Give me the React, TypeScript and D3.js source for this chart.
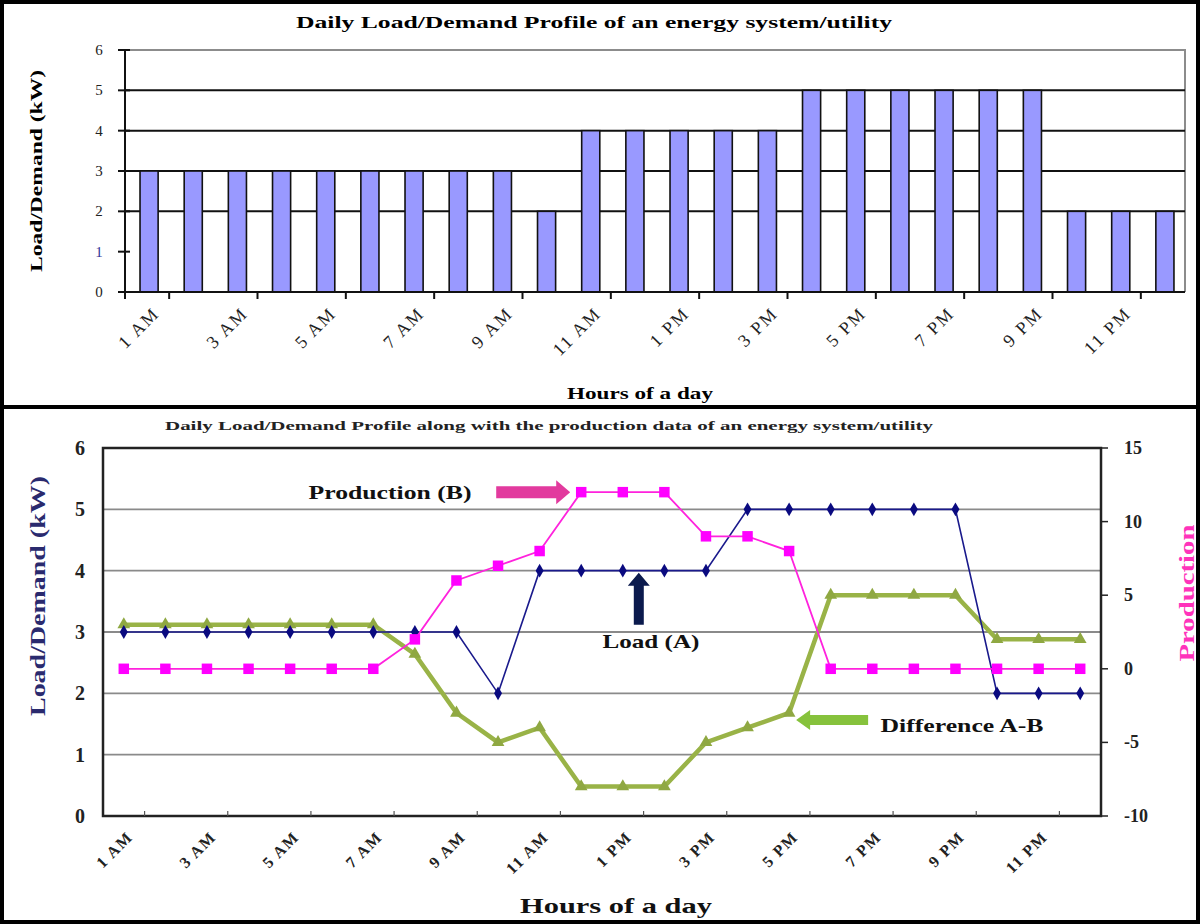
import React, { useEffect, useRef } from 'react';
import * as d3 from 'd3';

// hourly categories, 1 AM through midnight
const hours = [
  '1 AM', '2 AM', '3 AM', '4 AM', '5 AM', '6 AM', '7 AM', '8 AM', '9 AM', '10 AM', '11 AM', '12 PM',
  '1 PM', '2 PM', '3 PM', '4 PM', '5 PM', '6 PM', '7 PM', '8 PM', '9 PM', '10 PM', '11 PM', '12 AM',
];
const loadKW = [3, 3, 3, 3, 3, 3, 3, 3, 3, 2, 4, 4, 4, 4, 4, 5, 5, 5, 5, 5, 5, 2, 2, 2];
const production = [0, 0, 0, 0, 0, 0, 0, 2, 6, 7, 8, 12, 12, 12, 9, 9, 8, 0, 0, 0, 0, 0, 0, 0];
const difference = [3, 3, 3, 3, 3, 3, 3, 1, -3, -5, -4, -8, -8, -8, -5, -4, -3, 5, 5, 5, 5, 2, 2, 2];
const loadTicks = [0, 1, 2, 3, 4, 5, 6];
const topGridTicks = [2, 3, 4, 5];
const prodTicks = [-10, -5, 0, 5, 10, 15];

const SERIF = '"Liberation Serif", "Times New Roman", serif';

const App: React.FC = () => {
  const svgRef = useRef<SVGSVGElement>(null);

  useEffect(() => {
    if (!svgRef.current) return;
    const svg = d3.select(svgRef.current);
    svg.selectAll('*').remove();

    const txt = (
      g: d3.Selection<any, any, any, any>,
      s: string,
      x: number,
      y: number,
      size: number,
      opts: { weight?: string; anchor?: string; fill?: string; len?: number; rotate?: number } = {}
    ) => {
      const t = g.append('text')
        .attr('x', x)
        .attr('y', y)
        .attr('font-family', SERIF)
        .attr('font-size', size)
        .attr('font-weight', opts.weight ?? 'bold')
        .attr('text-anchor', opts.anchor ?? 'middle')
        .attr('dominant-baseline', 'central')
        .attr('fill', opts.fill ?? '#000')
        .text(s);
      if (opts.len) t.attr('textLength', opts.len).attr('lengthAdjust', 'spacingAndGlyphs');
      if (opts.rotate) t.attr('transform', `rotate(${opts.rotate},${x},${y})`);
      return t;
    };

    svg.append('rect').attr('width', 1200).attr('height', 924).attr('fill', '#fff');

    // ---------- Top panel: bar chart ----------
    const top = svg.append('g');
    const xb = d3.scaleBand<string>().domain(hours).range([125, 1185]);
    const yb = d3.scaleLinear().domain([0, 6]).range([292, 50]);
    const bw = xb.bandwidth();

    // plot frame (gray top/right)
    top.append('path')
      .attr('d', `M${xb.range()[0]},${yb(6)}H${xb.range()[1]}V${yb(0)}`)
      .attr('fill', 'none').attr('stroke', '#8c8c8c').attr('stroke-width', 2);

    top.selectAll('.grid')
      .data(topGridTicks)
      .enter().append('line')
      .attr('x1', 125).attr('x2', 1185)
      .attr('y1', d => yb(d)).attr('y2', d => yb(d))
      .attr('stroke', '#111').attr('stroke-width', 2);

    top.selectAll('.bar')
      .data(loadKW)
      .enter().append('rect')
      .attr('x', (_, i) => (xb(hours[i]) ?? 0) + bw * 0.34)
      .attr('width', bw * 0.41)
      .attr('y', d => yb(d))
      .attr('height', d => yb(0) - yb(d))
      .attr('fill', '#9999ff')
      .attr('stroke', '#111')
      .attr('stroke-width', 1.6);

    // axes
    top.append('line').attr('x1', 125).attr('x2', 125).attr('y1', yb(6)).attr('y2', yb(0) + 7)
      .attr('stroke', '#111').attr('stroke-width', 2);
    top.append('line').attr('x1', 119).attr('x2', 1185).attr('y1', yb(0)).attr('y2', yb(0))
      .attr('stroke', '#111').attr('stroke-width', 2);
    loadTicks.forEach(v => {
      top.append('line').attr('x1', 118).attr('x2', 130).attr('y1', yb(v)).attr('y2', yb(v))
        .attr('stroke', '#111').attr('stroke-width', 2);
      txt(top, String(v), 99, yb(v), 15, { weight: 'normal', fill: v === 1 ? '#333399' : '#222' });
    });
    hours.forEach((h, i) => {
      if (i % 2 === 1) {
        const xt = (xb(h) ?? 0);
        top.append('line').attr('x1', xt).attr('x2', xt).attr('y1', yb(0)).attr('y2', yb(0) + 7)
          .attr('stroke', '#111').attr('stroke-width', 2);
      }
      if (i % 2 === 0) {
        const lx = (xb(h) ?? 0) + bw / 2 + 9;
        const ly = 310;
        top.append('text')
          .attr('x', lx).attr('y', ly)
          .attr('font-family', SERIF).attr('font-size', 18)
          .attr('text-anchor', 'end')
          .attr('letter-spacing', 2)
          .attr('dy', '0.35em')
          .attr('fill', '#222')
          .attr('transform', `rotate(-45,${lx},${ly})`)
          .text(h);
      }
    });

    txt(top, 'Daily Load/Demand Profile of an energy system/utility', 594, 22, 16, { len: 596 });
    txt(top, 'Load/Demand (kW)', 36, 171, 17, { len: 202, rotate: -90 });
    txt(top, 'Hours of a day', 640, 393, 17, { len: 146 });

    // ---------- Bottom panel: line chart ----------
    const bot = svg.append('g');
    const x = d3.scaleBand<string>().domain(hours).range([103, 1101]);
    const yL = d3.scaleLinear().domain([0, 6]).range([816, 448]);
    const yR = d3.scaleLinear().domain([-10, 15]).range([816, 448]);
    const cx = (i: number) => (x(hours[i]) ?? 0) + x.bandwidth() / 2;

    loadTicks.slice(1, 6).forEach(v => {
      bot.append('line').attr('x1', 103).attr('x2', 1101).attr('y1', yL(v)).attr('y2', yL(v))
        .attr('stroke', '#8a8a8a').attr('stroke-width', 1.8);
    });
    bot.append('rect')
      .attr('x', 103).attr('y', 448).attr('width', 998).attr('height', 368)
      .attr('fill', 'none').attr('stroke', '#222').attr('stroke-width', 2.5);

    // left axis labels
    loadTicks.forEach(v => {
      txt(bot, String(v), 80, yL(v), 20, { fill: '#222' });
    });
    // right axis ticks + labels
    prodTicks.forEach(v => {
      bot.append('line').attr('x1', 1101).attr('x2', 1108).attr('y1', yR(v)).attr('y2', yR(v))
        .attr('stroke', '#222').attr('stroke-width', 1.5);
      txt(bot, String(v), 1124, yR(v), 18, { anchor: 'start', fill: '#222' });
    });
    // x ticks and labels
    hours.forEach((h, i) => {
      if (i % 2 === 1) {
        const xt = x(h) ?? 0;
        bot.append('line').attr('x1', xt).attr('x2', xt).attr('y1', 816).attr('y2', 811)
          .attr('stroke', '#555').attr('stroke-width', 1.2);
      }
      if (i % 2 === 0) {
        const lx = cx(i) + 6;
        const ly = 834;
        bot.append('text')
          .attr('x', lx).attr('y', ly)
          .attr('font-family', SERIF).attr('font-size', 16).attr('font-weight', 'bold')
          .attr('text-anchor', 'end')
          .attr('letter-spacing', 1.5)
          .attr('dy', '0.35em')
          .attr('fill', '#222')
          .attr('transform', `rotate(-45,${lx},${ly})`)
          .text(h);
      }
    });

    // series lines
    const lineL = d3.line<number>().x((_, i) => cx(i)).y(d => yL(d));
    const lineR = d3.line<number>().x((_, i) => cx(i)).y(d => yR(d));

    bot.append('path').attr('d', lineR(difference) ?? '')
      .attr('fill', 'none').attr('stroke', '#99b347').attr('stroke-width', 4.5);
    bot.append('path').attr('d', lineL(loadKW) ?? '')
      .attr('fill', 'none').attr('stroke', '#1a1a8c').attr('stroke-width', 1.6);
    bot.append('path').attr('d', lineR(production) ?? '')
      .attr('fill', 'none').attr('stroke', '#ff22dd').attr('stroke-width', 1.8);

    const tri = d3.symbol(d3.symbolTriangle, 70)();
    const dia = d3.symbol(d3.symbolDiamond, 55)();
    const sq = d3.symbol(d3.symbolSquare, 110)();

    bot.selectAll('.tri').data(difference).enter().append('path')
      .attr('d', tri).attr('transform', (d, i) => `translate(${cx(i)},${yR(d)})`)
      .attr('fill', '#8fa842');
    bot.selectAll('.dia').data(loadKW).enter().append('path')
      .attr('d', dia).attr('transform', (d, i) => `translate(${cx(i)},${yL(d)})`)
      .attr('fill', '#0a0a80');
    bot.selectAll('.sq').data(production).enter().append('path')
      .attr('d', sq).attr('transform', (d, i) => `translate(${cx(i)},${yR(d)})`)
      .attr('fill', '#ff00ff');

    // annotations: block arrows pointing to the series
    const hArrow = (tipX: number, y: number, len: number, dir: number, color: string, shaft: number, head: number, headLen: number) => {
      const b = tipX - dir * len;
      const h = tipX - dir * headLen;
      const p = d3.path();
      p.moveTo(b, y - shaft / 2);
      p.lineTo(h, y - shaft / 2);
      p.lineTo(h, y - head / 2);
      p.lineTo(tipX, y);
      p.lineTo(h, y + head / 2);
      p.lineTo(h, y + shaft / 2);
      p.lineTo(b, y + shaft / 2);
      p.closePath();
      bot.append('path').attr('d', p.toString()).attr('fill', color);
    };

    // Production (B) arrow -> 12 PM production point
    const pTipX = cx(11) - 11;
    const pY = yR(production[11]);
    hArrow(pTipX, pY, 74, 1, '#e23a9e', 12, 24, 14);
    txt(bot, 'Production (B)', 390, pY, 19, { len: 163, fill: '#111' });

    // Load (A) arrow -> 1 PM load point (pointing up)
    const lx = cx(12) + 16;
    const lTop = yL(loadKW[12]) + 2;
    const lp = d3.path();
    const lLen = 52;
    lp.moveTo(lx - 5, lTop + lLen);
    lp.lineTo(lx - 5, lTop + 13);
    lp.lineTo(lx - 11, lTop + 13);
    lp.lineTo(lx, lTop);
    lp.lineTo(lx + 11, lTop + 13);
    lp.lineTo(lx + 5, lTop + 13);
    lp.lineTo(lx + 5, lTop + lLen);
    lp.closePath();
    bot.append('path').attr('d', lp.toString()).attr('fill', '#0b1a4d');
    txt(bot, 'Load (A)', 651, 641, 19, { len: 97, fill: '#111' });

    // Difference A-B arrow -> 5 PM difference point
    const dTipX = cx(16) + 7;
    const dY = yR(difference[16]) + 7;
    hArrow(dTipX, dY, 72, -1, '#86c23c', 10, 20, 14);
    txt(bot, 'Difference A-B', 962, 725, 19, { len: 163, fill: '#111' });

    txt(bot, 'Daily Load/Demand Profile along with the production data of an energy system/utility', 549, 426, 12, { len: 768, fill: '#222' });
    txt(bot, 'Load/Demand (kW)', 38, 596, 20, { len: 240, rotate: -90, fill: '#2a2a6e' });
    txt(bot, 'Production', 1187, 593, 21, { len: 137, rotate: -90, fill: '#ff33bb' });
    txt(bot, 'Hours of a day', 616, 905, 22, { len: 192, fill: '#111' });

    // panel frames
    svg.append('rect').attr('x', 2).attr('y', 2).attr('width', 1196).attr('height', 405)
      .attr('fill', 'none').attr('stroke', '#000').attr('stroke-width', 4);
    svg.append('rect').attr('x', 2).attr('y', 407).attr('width', 1196).attr('height', 515)
      .attr('fill', 'none').attr('stroke', '#000').attr('stroke-width', 4);
  }, []);

  return (
    <div style={{ position: 'absolute', left: 0, top: 0, width: 1200, height: 924 }}>
      <svg ref={svgRef} width={1200} height={924}></svg>
    </div>
  );
};

export default App;
